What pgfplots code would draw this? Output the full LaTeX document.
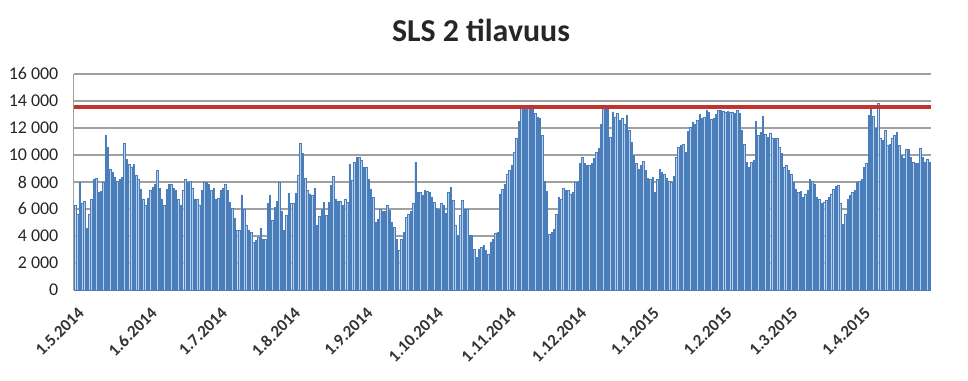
\documentclass[border=0pt]{standalone}
\usepackage{pgfplots}
\usepackage{pgfplotstable}
\pgfplotsset{compat=1.18}
\usepackage{fontspec}
\setmainfont{Carlito}
\definecolor{barfill}{RGB}{185,206,234}
\definecolor{baredge}{RGB}{74,126,187}
\definecolor{limitred}{RGB}{192,52,45}
\definecolor{gridgray}{RGB}{160,160,160}

\pgfplotstableread[row sep=\\]{
v\\
6300\\ 5600\\ 7950\\ 6400\\ 6600\\ 4600\\ 5600\\ 6750\\ 8200\\ 8300\\
7250\\ 7300\\ 8000\\ 11460\\ 10540\\ 8980\\ 8700\\ 8370\\ 8050\\ 8240\\
8370\\ 10840\\ 9680\\ 9280\\ 9100\\ 9280\\ 8490\\ 8200\\ 7500\\ 6750\\
6260\\ 6800\\ 7380\\ 7620\\ 7870\\ 8860\\ 7550\\ 6750\\ 6260\\ 7430\\
7800\\ 7800\\ 7550\\ 7380\\ 6750\\ 6300\\ 7380\\ 8200\\ 7950\\ 8050\\
7550\\ 6750\\ 6750\\ 6300\\ 7380\\ 7950\\ 7950\\ 7870\\ 7380\\ 7550\\
6750\\ 6800\\ 7380\\ 7550\\ 7870\\ 7380\\ 6510\\ 6060\\ 5320\\ 4400\\
4400\\ 7050\\ 6010\\ 4830\\
4450\\ 4300\\ 3540\\ 3660\\ 3910\\ 4580\\ 3790\\ 3790\\ 6400\\ 7050\\
5150\\ 6140\\ 6560\\ 7950\\ 5820\\ 4400\\ 5520\\ 7200\\ 6460\\ 6460\\
7200\\ 8490\\ 10840\\ 10100\\ 8290\\ 7380\\ 7130\\ 7000\\ 7550\\ 4830\\
5470\\ 6010\\ 6510\\ 5520\\ 6510\\ 7750\\ 8440\\ 6760\\ 6560\\ 6560\\
6260\\ 6760\\ 6510\\ 9280\\ 8120\\ 9480\\ 9850\\ 9850\\ 9600\\ 9110\\
9110\\ 8190\\ 7500\\ 6880\\ 5020\\ 5270\\ 5970\\ 5820\\ 5820\\ 6310\\
5890\\ 5020\\ 4650\\ 3790\\ 2920\\ 3790\\ 4280\\ 5400\\ 5640\\ 5820\\
6460\\ 9480\\ 7250\\
7250\\ 7050\\ 7380\\ 7300\\ 7250\\ 6880\\ 6510\\ 6060\\ 6010\\ 6460\\
6260\\ 5720\\ 7250\\ 7620\\ 6630\\ 4830\\ 4030\\ 5520\\ 6630\\ 5970\\
5970\\ 4030\\ 4030\\ 3000\\ 2430\\ 3040\\ 3170\\ 3290\\ 2920\\ 2670\\
3540\\ 3790\\ 4230\\ 4280\\ 7130\\ 7500\\ 7870\\ 8610\\ 8860\\ 9230\\
10200\\ 11260\\ 12500\\ 13440\\ 13440\\ 13440\\ 13440\\ 13440\\ 13440\\ 13070\\
12820\\ 12750\\ 11460\\ 8050\\ 7300\\ 4160\\ 4280\\ 4530\\ 5640\\ 6880\\
6710\\ 7550\\ 7380\\ 7380\\ 7130\\ 7250\\ 7950\\ 8050\\ 9360\\ 9850\\
9360\\ 9230\\
9230\\ 9360\\ 9780\\ 10170\\ 10500\\ 12250\\ 13440\\ 13440\\ 13440\\ 11340\\
13140\\ 12820\\ 13070\\ 12570\\ 12700\\ 12250\\ 12950\\ 11830\\ 10920\\ 10020\\
9360\\ 8940\\ 9230\\ 9530\\ 8860\\ 8290\\ 8240\\ 8370\\ 7250\\ 8240\\
8940\\ 8690\\ 8610\\ 8290\\ 8050\\ 8000\\ 8440\\ 9850\\ 10590\\ 10720\\
10770\\ 10220\\ 11760\\ 12080\\ 12450\\ 12250\\ 12570\\ 13000\\ 12700\\ 12820\\
13320\\ 13140\\ 12640\\ 12750\\ 13000\\ 13320\\ 13320\\ 13240\\ 13200\\ 13240\\
13200\\ 13200\\ 13070\\ 13320\\ 13100\\ 11830\\ 10770\\ 9480\\ 9110\\ 9480\\
9600\\ 12500\\ 11460\\
11710\\ 12900\\ 11510\\ 11340\\ 11580\\ 11260\\ 11210\\ 11260\\ 10590\\ 10100\\
9110\\ 9230\\ 8860\\ 8540\\ 7950\\ 7500\\ 7250\\ 7300\\ 6880\\ 7130\\
7380\\ 8190\\ 8050\\ 7870\\ 6880\\ 6710\\ 6460\\ 6510\\ 6630\\ 6880\\
7130\\ 7500\\ 7700\\ 7750\\ 6460\\ 4900\\ 5640\\ 6760\\ 7000\\ 7250\\
7380\\ 7950\\ 8050\\ 8240\\ 9110\\ 9360\\ 12950\\ 13440\\ 12900\\ 11960\\
13810\\ 11210\\ 11090\\ 11830\\ 10720\\ 10770\\ 11260\\ 11460\\ 11710\\ 10720\\
10020\\ 9780\\ 10420\\ 10420\\ 9850\\ 9430\\ 9360\\ 9360\\ 10520\\ 9850\\
9480\\ 9700\\ 9500\\
}\sls

\begin{document}
\begin{tikzpicture}
\path[use as bounding box] (-75bp,-91bp) rectangle (893bp,290bp);
\begin{axis}[
  at={(0,0)}, anchor=origin,
  scale only axis,
  width=857bp, height=216bp,
  xmin=-0.5, xmax=364.5,
  ymin=0, ymax=16000,
  ytick={0,2000,...,16000},
  scaled y ticks=false,
  xtick={0,31,61,92,123,153,184,214,245,276,304,335},
  xticklabels={1.5.2014,1.6.2014,1.7.2014,1.8.2014,1.9.2014,1.10.2014,1.11.2014,1.12.2014,1.1.2015,1.2.2015,1.3.2015,1.4.2015},
  xticklabel style={yshift=-16bp, xshift=2bp, rotate=45, anchor=north east, font=\fontsize{17}{19}\selectfont\bfseries, text=black!80, inner sep=0bp},
  yticklabel style={font=\fontsize{18}{20}\selectfont, text=black!85, xshift=-12bp},
  yticklabel={\pgfmathprintnumber[1000 sep={\ }, assume math mode=true, fixed]{\tick}},
  major tick length=0pt,
  ymajorgrids,
  grid style={gridgray, line width=1.3bp},
  axis lines*=left,
  axis line style={gridgray, line width=1bp},
]
\addplot[ybar, bar width=0.62, fill=barfill, draw=baredge, line width=0.45bp]
  table[x expr=\coordindex, y=v] {\sls};
\addplot[limitred, line width=3.2bp, forget plot] coordinates {(-0.5,13550) (364.5,13550)};
\end{axis}
\node[font=\fontsize{32}{36}\selectfont\bfseries, text=black!85] at (406bp,260bp) {SLS 2 tilavuus};
\end{tikzpicture}
\end{document}
